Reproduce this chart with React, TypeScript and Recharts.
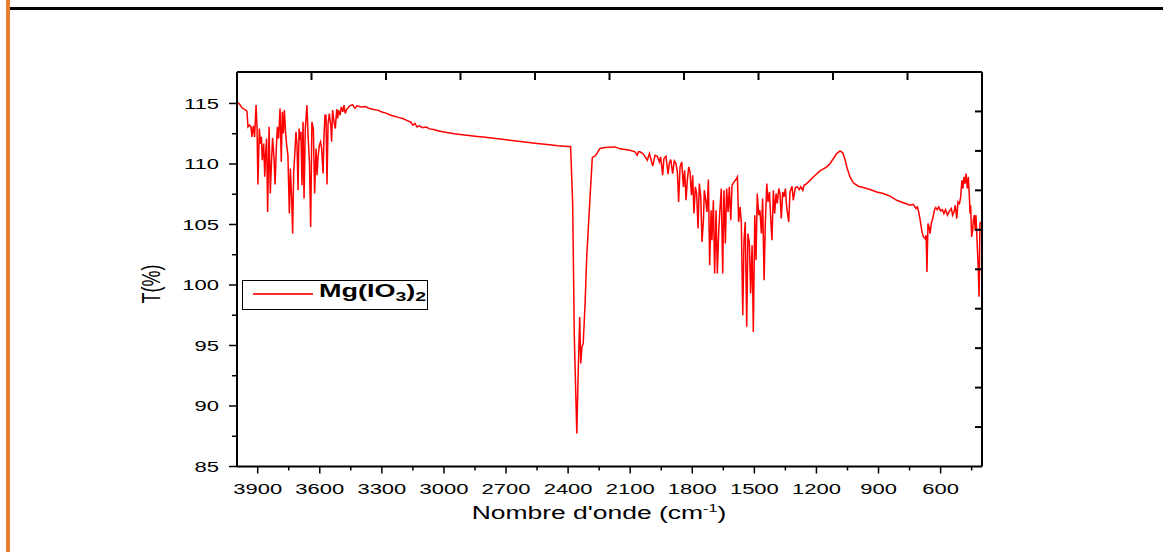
import React from 'react';
import { LineChart, Line, XAxis, YAxis, Legend } from 'recharts';

// readings, [wavenumber cm-1, T %], high to low wavenumber
const ohRegion: [number, number][] = [
  [3997, 115.08], [3986, 114.91], [3976, 114.64], [3966, 114.53], [3957, 114.45], [3952, 114.36], [3947, 113.07], [3940, 113.21],
  [3932, 113.07], [3928, 112.24], [3921, 113.15], [3915, 112.24], [3908, 114.86], [3903, 112.93], [3899, 108.3], [3892, 112.93],
  [3887, 111.69], [3882, 112.24], [3878, 110.31], [3871, 111.69], [3866, 108.94], [3862, 110.73], [3857, 112.1], [3852, 106.04],
  [3845, 113.07], [3839, 107.56], [3834, 109.9], [3828, 112.16], [3821, 110.45], [3816, 108.3], [3810, 111.28], [3805, 113.07],
  [3799, 112.1], [3792, 114.58], [3786, 110.18], [3781, 114.31], [3776, 112.52], [3771, 114.45], [3766, 112.79], [3760, 111.55],
  [3754, 110.73], [3747, 105.91], [3742, 109.63], [3736, 107.15], [3731, 104.25], [3726, 109.35], [3721, 110.73], [3715, 112.66],
  [3710, 111.55], [3705, 107.84], [3700, 112.93], [3696, 111.97], [3691, 112.66], [3686, 108.25], [3681, 113.48], [3676, 107.15],
  [3670, 112.93], [3662, 114.86], [3657, 112.52], [3650, 110.18], [3644, 104.8], [3638, 113.48], [3631, 112.93], [3625, 107.56],
  [3618, 111.28], [3613, 109.07], [3609, 110.45], [3602, 111.55], [3596, 111.83], [3591, 111.28], [3584, 109.21], [3580, 112.1],
  [3575, 114.03], [3570, 114.03], [3565, 108.3], [3560, 113.34], [3554, 114.17], [3547, 113.21], [3543, 111.83], [3538, 114.45],
  [3531, 113.48], [3525, 112.93], [3518, 114.53], [3514, 113.76], [3509, 114.45], [3502, 114.03], [3496, 114.72], [3489, 114.31],
  [3483, 114.86], [3477, 114.17],
];

const plateau: [number, number][] = [
  [3470, 114.5], [3455, 114.8], [3441, 114.9], [3430, 114.6], [3420, 114.8], [3400, 114.7], [3380, 114.75], [3362, 114.6],
  [3340, 114.5], [3320, 114.45], [3300, 114.3], [3280, 114.2], [3260, 114.05], [3240, 113.95], [3220, 113.85], [3199, 113.76],
  [3180, 113.6], [3160, 113.45], [3150, 113.2], [3140, 113.35], [3130, 113.05], [3120, 113.15], [3103, 113.0], [3085, 113.05],
  [3070, 112.9], [3050, 112.85], [3030, 112.75], [3000, 112.65], [2950, 112.5], [2900, 112.4], [2850, 112.3], [2800, 112.2],
  [2750, 112.1], [2700, 112.0], [2650, 111.9], [2600, 111.8], [2550, 111.7], [2500, 111.6], [2450, 111.5], [2400, 111.45],
  [2388, 111.45],
];

const co2Band: [number, number][] = [
  [2378, 106.74], [2370, 95.7], [2358, 87.73], [2351, 92.96], [2344, 97.36], [2339, 93.51], [2333, 94.89], [2327, 95.17],
  [2318, 98.47], [2310, 102.32], [2294, 107.28], [2283, 110.54], [2270, 110.64], [2259, 110.92], [2246, 111.28], [2222, 111.36],
  [2173, 111.41], [2149, 111.25], [2125, 111.2], [2101, 111.14], [2077, 111.0], [2066, 110.73], [2060, 111.0],
];

const fingerprint: [number, number][] = [
  [2052, 111.0], [2036, 110.81], [2017, 110.31], [2007, 110.86], [1991, 109.82], [1980, 110.72], [1969, 110.64], [1959, 110.17],
  [1953, 110.59], [1943, 109.07], [1937, 110.45], [1927, 110.64], [1917, 109.15], [1911, 110.04], [1904, 110.37], [1895, 109.21],
  [1887, 110.26], [1879, 110.04], [1872, 109.35], [1866, 106.87], [1859, 109.76], [1851, 110.17], [1843, 108.11], [1837, 109.48],
  [1830, 107.0], [1824, 108.66], [1817, 109.76], [1811, 109.35], [1804, 107.42], [1798, 109.07], [1792, 105.9], [1785, 108.11],
  [1779, 107.56], [1772, 104.67], [1766, 108.38], [1759, 107.28], [1753, 103.56], [1746, 105.35], [1742, 107.83], [1735, 107.0],
  [1729, 106.04], [1722, 108.71], [1716, 101.63], [1709, 106.18], [1705, 103.7], [1698, 107.0], [1692, 100.94], [1685, 106.18],
  [1679, 100.94], [1672, 104.53], [1666, 106.32], [1660, 107.97], [1653, 100.94], [1647, 107.83], [1640, 103.42], [1634, 107.97],
  [1627, 106.04], [1621, 108.11], [1614, 105.35], [1608, 108.24], [1598, 108.52], [1589, 108.71], [1582, 108.93], [1576, 105.21],
  [1569, 106.45], [1563, 105.13], [1556, 97.5], [1550, 103.7], [1544, 105.21], [1537, 96.54], [1531, 104.25], [1524, 103.42],
  [1518, 99.29], [1511, 103.29], [1505, 96.12], [1498, 105.77], [1492, 102.05], [1486, 107.56], [1479, 105.77], [1473, 106.18],
  [1466, 104.25], [1460, 107.14], [1453, 100.39], [1447, 105.08], [1440, 108.38], [1434, 106.87], [1427, 107.69], [1421, 105.49],
  [1415, 103.7], [1408, 107.83], [1402, 105.9], [1395, 107.56], [1389, 106.73], [1382, 107.97], [1376, 107.56], [1370, 105.49],
  [1363, 107.69], [1357, 107.28], [1350, 107.97], [1344, 106.45], [1334, 105.21], [1328, 107.69], [1318, 108.16], [1312, 107.0],
  [1302, 108.05], [1292, 108.11], [1283, 107.89], [1276, 108.11], [1266, 107.83], [1260, 108.24], [1247, 108.38], [1215, 108.93],
  [1183, 109.43], [1150, 109.76],
];

const lowRegion: [number, number][] = [
  [1134, 110.04], [1118, 110.45], [1102, 110.86], [1086, 111.08], [1073, 110.92], [1062, 110.37], [1051, 109.62], [1038, 108.93],
  [1022, 108.44], [998, 108.16], [973, 108.05], [941, 107.89], [909, 107.69], [877, 107.56], [845, 107.34], [812, 107.0],
  [780, 106.79], [748, 106.59], [732, 106.67], [719, 106.32], [712, 106.45], [706, 106.04], [700, 105.49], [690, 104.39],
  [683, 103.97], [675, 103.84], [670, 104.11], [666, 101.08], [661, 105.08], [656, 104.8], [651, 104.25], [645, 105.08],
  [638, 105.49], [630, 106.18], [624, 106.4], [616, 106.23], [609, 106.45], [600, 106.12], [591, 106.23], [584, 105.9],
  [576, 106.23], [567, 105.77], [557, 106.12], [548, 106.32], [542, 105.77], [535, 106.04], [529, 106.59], [522, 105.49],
  [516, 106.87], [509, 106.73], [503, 107.28], [497, 108.66], [492, 107.97], [487, 108.93], [482, 108.38], [477, 109.21],
  [471, 107.97], [466, 108.93], [461, 107.28], [458, 105.9], [455, 106.59], [450, 103.97], [445, 104.53], [442, 105.35],
  [437, 105.77], [433, 104.53], [429, 105.77], [424, 103.7], [419, 101.77], [414, 99.02], [410, 105.08], [405, 105.21],
];

const bottomTicks = [3900, 3750, 3600, 3450, 3300, 3150, 3000, 2850, 2700, 2550, 2400, 2250, 2100, 1950, 1800, 1650, 1500, 1350, 1200, 1050, 900, 750, 600, 450];
const leftTicks = [85, 87.5, 90, 92.5, 95, 97.5, 100, 102.5, 105, 107.5, 110, 112.5, 115];
const topTicks = [3640, 3280, 2920, 2560, 2200, 1840, 1480, 1120, 760];
const rightTicks = [88.26, 91.52, 94.78, 98.04, 101.3, 104.56, 107.82, 111.08, 114.34];

const X_DOMAIN: [number, number] = [400, 4000];
const Y_DOMAIN: [number, number] = [85, 117.6];
const PLOT_H = 394.5;

const spectrum = [...ohRegion, ...plateau, ...co2Band, ...fingerprint, ...lowRegion].map(([w, t]) => ({ w, t }));

// the bottom axis also carries the top-frame tick positions; the tick renderer draws those at the top edge
const xTickValues = [...bottomTicks, ...topTicks].sort((a, b) => b - a);

const FONT = '"Liberation Sans", Arial, Helvetica, sans-serif';
const STRETCH = 1.42;

const BottomTick = (props: any) => {
  const { x, y, payload } = props;
  const v = payload.value;
  if (topTicks.includes(v)) {
    return <rect x={x - 1} y={y - PLOT_H} width={2} height={8} fill="#000" />;
  }
  const major = v % 300 === 0;
  return (
    <g>
      <line x1={x} y1={y} x2={x} y2={y + (major ? 7 : 4)} stroke="#000" strokeWidth={1.5} />
      {major && (
        <text transform={`translate(${x},${y + 27}) scale(${STRETCH},1)`} textAnchor="middle" fontFamily={FONT} fontSize={15.5} fill="#000">
          {v}
        </text>
      )}
    </g>
  );
};

const LeftTick = (props: any) => {
  const { x, y, payload } = props;
  const major = payload.value % 5 === 0;
  return (
    <g>
      <line x1={x} y1={y} x2={x - (major ? 8 : 5)} y2={y} stroke="#000" strokeWidth={1.5} />
      {major && (
        <text transform={`translate(${x - 18},${y + 5.5}) scale(${STRETCH},1)`} textAnchor="end" fontFamily={FONT} fontSize={15.5} fill="#000">
          {payload.value}
        </text>
      )}
    </g>
  );
};

const RightTick = (props: any) => {
  const { x, y } = props;
  return <line x1={x} y1={y} x2={x - 7} y2={y} stroke="#000" strokeWidth={2} />;
};

const xTitle = () => (
  <text transform={`translate(599,519) scale(1.47,1)`} textAnchor="middle" fontFamily={FONT} fontSize={18} fill="#000">
    Nombre d'onde (cm<tspan dy={-7} fontSize={11}>-1</tspan><tspan dy={7}>)</tspan>
  </text>
);

const yTitle = () => (
  <text transform={`translate(160,284) scale(1.45,1) rotate(-90)`} textAnchor="middle" fontFamily={FONT} fontSize={18} fill="#000">
    T(%)
  </text>
);

const renderLegend = () => (
  <div style={{ width: 186, height: 30, boxSizing: 'border-box', border: '1px solid #000', background: '#fff', position: 'relative' }}>
    <div style={{ position: 'absolute', left: 10, top: 12, width: 60, height: 1.5, background: '#ff2a2a' }} />
    <span
      style={{
        position: 'absolute', left: 76, top: 1, fontFamily: FONT, fontWeight: 'bold', fontSize: 18, lineHeight: '18px',
        transform: 'scaleX(1.5)', transformOrigin: 'left center', whiteSpace: 'nowrap', color: '#000',
      }}
    >
      Mg(IO<span style={{ fontSize: 13, verticalAlign: -4 }}>3</span>)<span style={{ fontSize: 13, verticalAlign: -4 }}>2</span>
    </span>
  </div>
);

export default function App() {
  return (
    <div style={{ position: 'fixed', left: 0, top: 0, width: 1163, height: 552, background: '#fff', overflow: 'hidden' }}>
      <div style={{ position: 'absolute', left: 6, top: 0, width: 4, height: 552, background: '#ed7d31' }} />
      <div style={{ position: 'absolute', left: 10, top: 7, width: 1153, height: 3, background: '#000' }} />
      <div style={{ position: 'absolute', left: 0, top: 0 }}>
        <LineChart width={1163} height={552} data={spectrum} margin={{ top: 52, right: 161, bottom: 25.5, left: 177 }}>
          <XAxis
            xAxisId="top" orientation="top" dataKey="w" type="number" domain={X_DOMAIN} reversed allowDataOverflow
            tick={false} tickLine={false} axisLine={{ stroke: '#000', strokeWidth: 2 }} height={20}
          />
          <YAxis
            yAxisId="left" type="number" domain={Y_DOMAIN} allowDataOverflow
            ticks={leftTicks} interval={0} tickSize={0} tickMargin={0} tickLine={false} tick={LeftTick}
            axisLine={{ stroke: '#000', strokeWidth: 2 }} width={60} label={yTitle}
          />
          <YAxis
            yAxisId="right" orientation="right" type="number" domain={Y_DOMAIN} allowDataOverflow
            ticks={rightTicks} interval={0} tickSize={0} tickMargin={0} tickLine={false} tick={RightTick}
            axisLine={{ stroke: '#000', strokeWidth: 2 }} width={20}
          />
          <XAxis
            xAxisId="bottom" dataKey="w" type="number" domain={X_DOMAIN} reversed allowDataOverflow
            ticks={xTickValues} interval={0} tickSize={0} tickMargin={0} tickLine={false} tick={BottomTick}
            axisLine={{ stroke: '#000', strokeWidth: 2 }} height={60} label={xTitle}
          />
          <Legend
            content={renderLegend} layout="horizontal" verticalAlign="middle" align="center"
            wrapperStyle={{ left: 242, top: 280, width: 186, height: 30, right: 'auto', bottom: 'auto' }}
          />
          <Line
            xAxisId="bottom" yAxisId="left" type="linear" dataKey="t" name="Mg(IO3)2"
            stroke="#ff0000" strokeWidth={1.5} dot={false} isAnimationActive={false}
          />
        </LineChart>
      </div>
    </div>
  );
}
